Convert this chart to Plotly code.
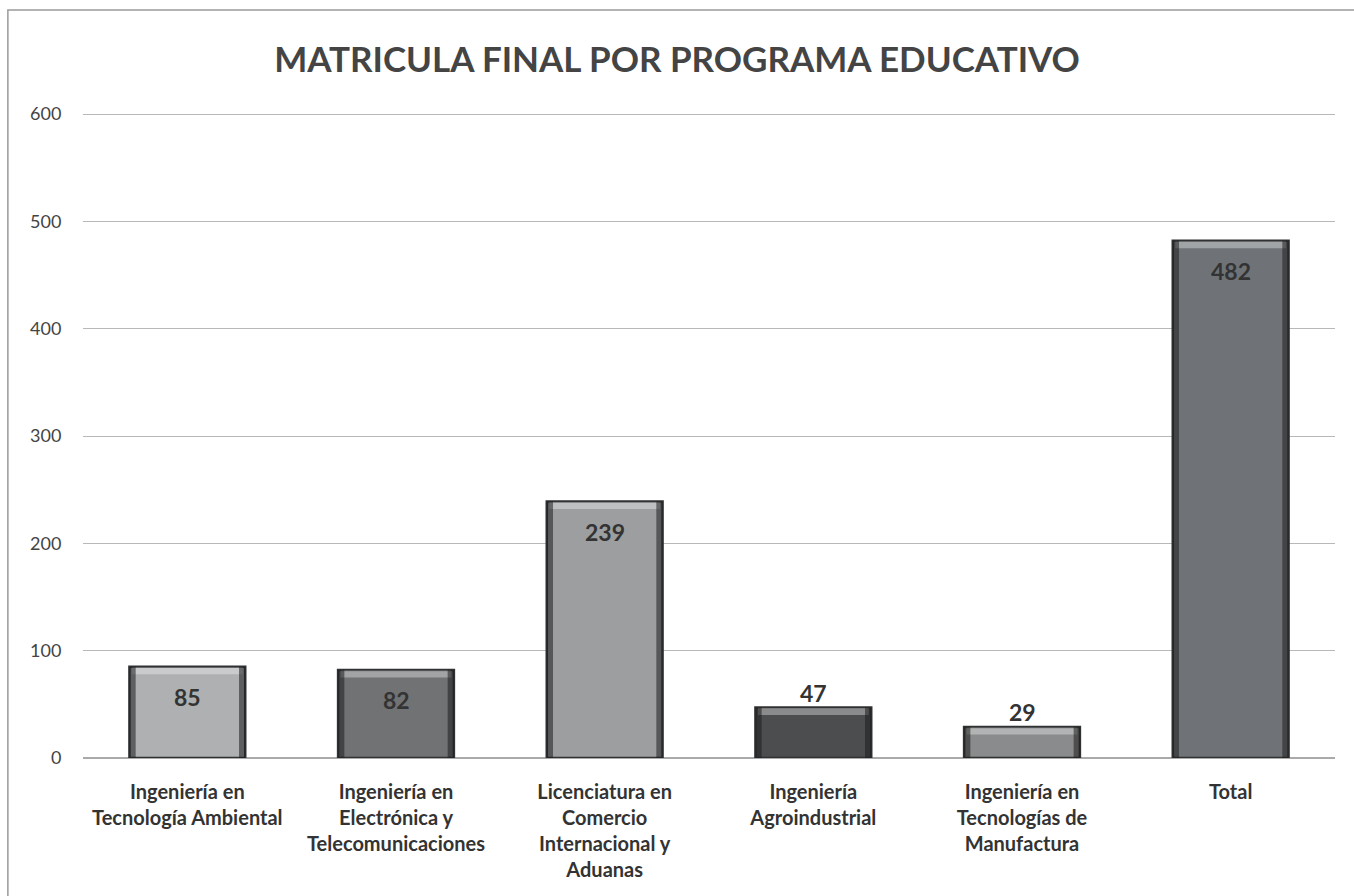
import plotly.graph_objects as go

# Matrícula final por programa educativo
programas = [
    "Ingeniería en<br>Tecnología Ambiental",
    "Ingeniería en<br>Electrónica y<br>Telecomunicaciones",
    "Licenciatura en<br>Comercio<br>Internacional y<br>Aduanas",
    "Ingeniería<br>Agroindustrial",
    "Ingeniería en<br>Tecnologías de<br>Manufactura",
    "Total",
]
matricula = [85, 82, 239, 47, 29, 482]
colores = ["#aeb0b2", "#707274", "#9c9ea0", "#4b4d4f", "#898b8d", "#6f7377"]
etiqueta_dentro = [True, True, True, False, False, True]

FONT = "Lato"
ANCHO = 0.555

fig = go.Figure()
fig.add_trace(go.Bar(
    x=list(range(len(programas))),
    y=matricula,
    width=ANCHO,
    marker=dict(color=colores, line=dict(color="#2f3133", width=2.5)),
    hoverinfo="skip",
))

# etiquetas de valor: dentro de la barra (arriba) o encima de ella
annotations = []
for i, v in enumerate(matricula):
    annotations.append(dict(
        x=i, y=v, xref="x", yref="y",
        text=f"<b>{v}</b>", showarrow=False,
        yshift=-30 if etiqueta_dentro[i] else 15,
        font=dict(family=FONT, size=23, color="#333333"),
    ))

# bisel: franja clara superior y bordes laterales oscuros de cada barra
shapes = []
for i, v in enumerate(matricula):
    x0, x1 = i - ANCHO / 2, i + ANCHO / 2
    shapes.append(dict(type="rect", xref="x", yref="y",
                       x0=x0 + 0.012, x1=x1 - 0.012, y0=v - 7, y1=v - 0.5,
                       fillcolor="rgba(255,255,255,0.35)", line=dict(width=0), layer="above"))
    shapes.append(dict(type="rect", xref="x", yref="y",
                       x0=x0, x1=x0 + 0.03, y0=0, y1=v,
                       fillcolor="rgba(30,30,30,0.55)", line=dict(width=0), layer="above"))
    shapes.append(dict(type="rect", xref="x", yref="y",
                       x0=x1 - 0.03, x1=x1, y0=0, y1=v,
                       fillcolor="rgba(30,30,30,0.55)", line=dict(width=0), layer="above"))
# marco del gráfico
shapes.append(dict(type="rect", xref="paper", yref="paper",
                   x0=-0.06, x1=1.03, y0=-0.3, y1=1.1597,
                   line=dict(color="#9a9a9a", width=1.5), layer="below"))

fig.update_layout(
    width=1354,
    height=896,
    margin=dict(l=83, r=19, t=113, b=138),
    paper_bgcolor="white",
    plot_bgcolor="white",
    title=dict(
        text="<b>MATRICULA FINAL POR PROGRAMA EDUCATIVO</b>",
        x=0.5, xanchor="center", y=0.933, yanchor="middle",
        font=dict(family=FONT, size=35, color="#444444"),
    ),
    xaxis=dict(
        tickmode="array",
        tickvals=list(range(len(programas))),
        ticktext=programas,
        range=[-0.5, len(programas) - 0.5],
        tickfont=dict(family=FONT, size=20, color="#333333", weight="bold"),
        showline=False,
        showgrid=False,
        ticks="",
        ticklabelstandoff=20,
    ),
    yaxis=dict(
        range=[0, 601],
        tickvals=[0, 100, 200, 300, 400, 500, 600],
        tickfont=dict(family=FONT, size=18, color="#444444"),
        showgrid=True,
        gridcolor="#b8b8b8",
        gridwidth=1.2,
        zeroline=True,
        zerolinecolor="#aaaaaa",
        zerolinewidth=1.5,
        ticks="outside",
        ticklen=17,
        tickcolor="white",
    ),
    annotations=annotations,
    shapes=shapes,
    showlegend=False,
)

fig.write_html("out.html")
